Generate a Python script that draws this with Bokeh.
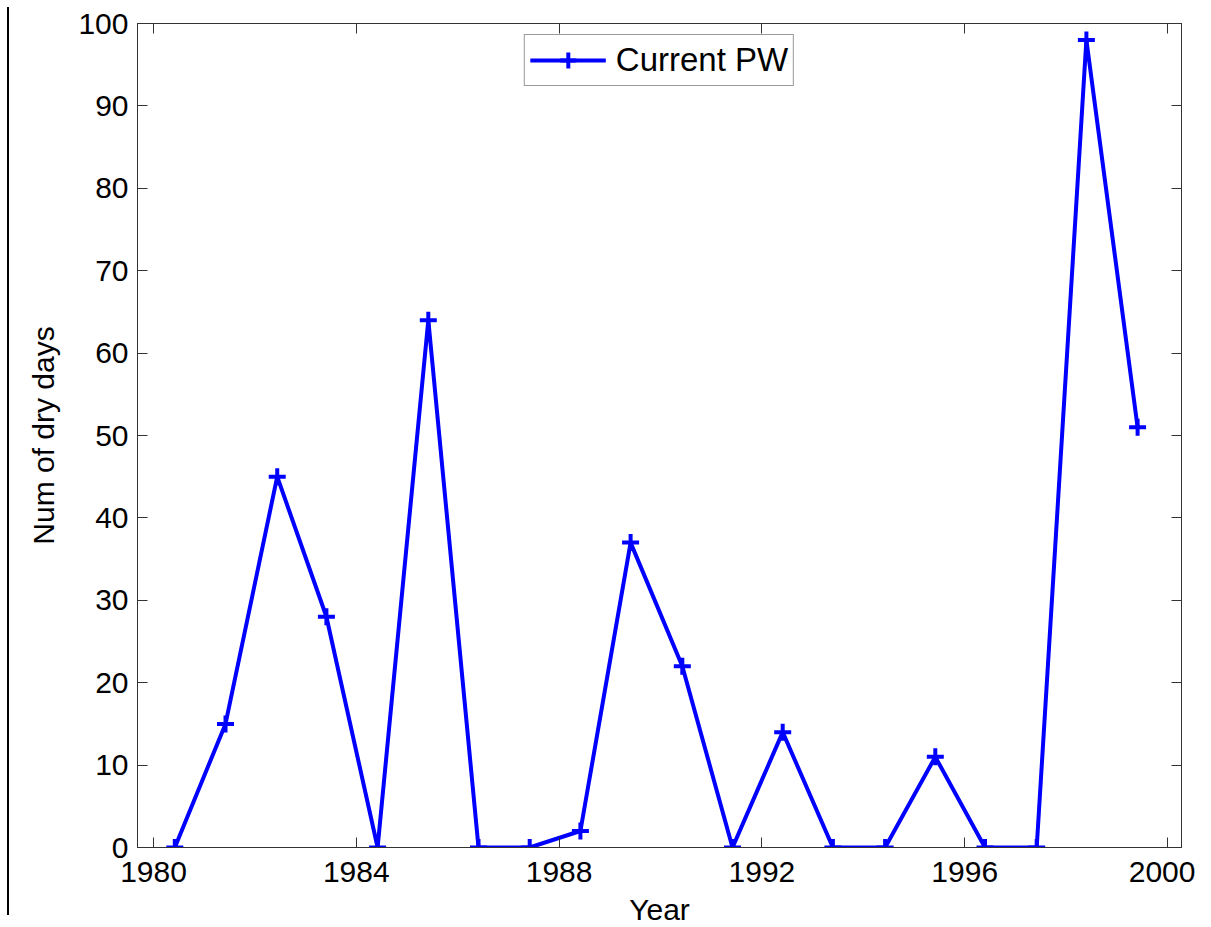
from bokeh.plotting import figure
from bokeh.models import Range1d, LinearAxis, FixedTicker, Div
from bokeh.layouts import row
from bokeh.embed import file_html
from bokeh.resources import INLINE

# ---- data ----
years = [1980.42, 1981.42, 1982.44, 1983.41, 1984.42, 1985.42, 1986.41, 1987.42, 1988.42, 1989.41,
         1990.43, 1991.42, 1992.41, 1993.40, 1994.43, 1995.42, 1996.40, 1997.42, 1998.40, 1999.41]
dry_days = [0, 15, 45, 28, 0, 64, 0, 0, 2, 37, 22, 0, 14, 0, 0, 11, 0, 0, 98, 51]
x_ticks = [1980, 1984, 1988, 1992, 1996, 2000]
y_ticks = [0, 10, 20, 30, 40, 50, 60, 70, 80, 90, 100]
series_name = "Current PW"

FONT = "Liberation Sans"
AX = "#333333"
BLUE = "#0000FF"

p = figure(frame_width=1044, frame_height=824,
           min_border_left=128, min_border_top=23, min_border_right=14, min_border_bottom=0,
           x_range=Range1d(1979.684, 2000.276), y_range=Range1d(0, 100),
           output_backend="svg", toolbar_location=None,
           x_axis_label="Year", y_axis_label="Num of dry days")
p.margin = (0, 0, 0, 0)

p.background_fill_color = "white"
p.border_fill_color = "white"
p.outline_line_color = AX
p.outline_line_width = 1
p.xgrid.visible = False
p.ygrid.visible = False

p.line(years, dry_days, line_color=BLUE, line_width=4, legend_label=series_name)
p.scatter(years, dry_days, marker="cross", size=17, line_color=BLUE, line_width=4,
          legend_label=series_name)

def style_axis(ax, labels=True):
    ax.axis_line_color = AX
    ax.major_tick_line_color = AX
    ax.major_tick_in = 10
    ax.major_tick_out = 0
    ax.minor_tick_line_color = None
    ax.major_label_text_font = FONT
    if labels:
        ax.major_label_text_color = "black"
        ax.major_label_text_font_size = "30px"
        ax.axis_label_text_font = FONT
        ax.axis_label_text_font_size = "30px"
        ax.axis_label_text_font_style = "normal"
        ax.axis_label_text_color = "black"
    else:
        ax.major_label_text_color = None
        ax.major_label_text_font_size = "1px"
        ax.major_label_standoff = 0

xa = p.xaxis[0]
xa.ticker = FixedTicker(ticks=x_ticks)
style_axis(xa)
xa.major_label_standoff = 14
xa.axis_label_standoff = 8

ya = p.yaxis[0]
ya.ticker = FixedTicker(ticks=y_ticks)
style_axis(ya)
ya.major_label_standoff = 9
ya.axis_label_standoff = 15

top = LinearAxis(ticker=FixedTicker(ticks=x_ticks))
style_axis(top, labels=False)
p.add_layout(top, "above")

right = LinearAxis(ticker=FixedTicker(ticks=y_ticks))
style_axis(right, labels=False)
p.add_layout(right, "right")

leg = p.legend[0]
leg.location = "top_center"
leg.margin = 11
leg.padding = 5
leg.spacing = 0
leg.glyph_width = 76
leg.glyph_height = 40
leg.label_standoff = 10
leg.label_text_font = FONT
leg.label_text_font_size = "33px"
leg.label_text_color = "black"
leg.border_line_color = AX
leg.border_line_width = 1
leg.background_fill_color = "white"
leg.background_fill_alpha = 1

# thin black border line at the far left of the picture
edge = Div(text="", width=2, height=908, margin=(7, 0, 0, 7),
           styles={"background-color": "black"})

layout = row(edge, p, spacing=0)

open("out.html", "w").write(file_html(layout, INLINE))
